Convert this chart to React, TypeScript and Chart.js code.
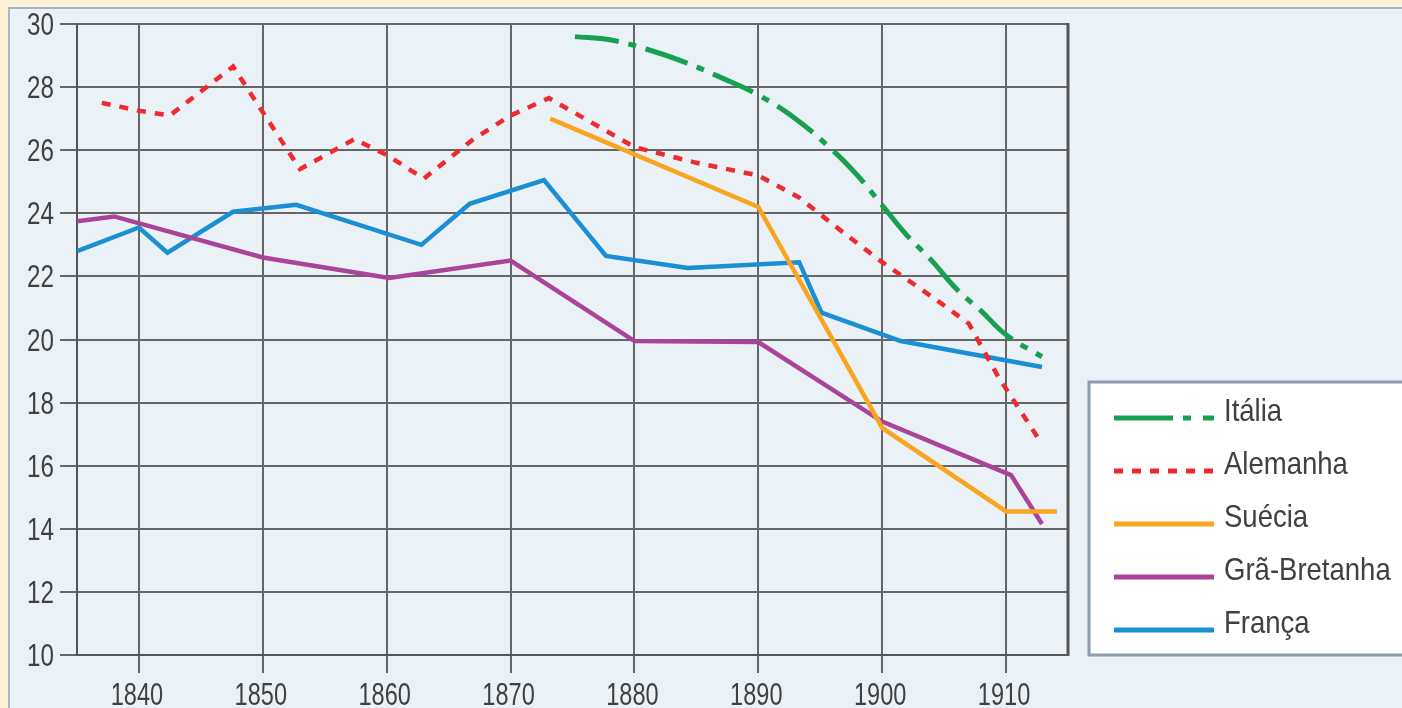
import React, { useEffect, useRef } from "react";
import { Chart, registerables } from "chart.js";

Chart.register(...registerables);

// ---------- data ----------
const seriesNames = ["Itália", "Alemanha", "Suécia", "Grã-Bretanha", "França"];

const italiaYears = [1875.2, 1878, 1881, 1884, 1887, 1890, 1893, 1896, 1898, 1900, 1902, 1904, 1906, 1908, 1910, 1912.9];
const italiaValues = [29.6, 29.5, 29.2, 28.8, 28.3, 27.75, 27.0, 26.0, 25.2, 24.25, 23.3, 22.5, 21.6, 20.9, 20.15, 19.45];

const alemanhaYears = [1837, 1840, 1842.5, 1847.6, 1853, 1857.4, 1860, 1863, 1867, 1870, 1873.1, 1880, 1885, 1890, 1893.3, 1896.5, 1900, 1904.4, 1907, 1909.4, 1912.8];
const alemanhaValues = [27.5, 27.25, 27.1, 28.65, 25.4, 26.35, 25.85, 25.1, 26.35, 27.1, 27.65, 26.1, 25.6, 25.2, 24.5, 23.5, 22.45, 21.25, 20.5, 18.8, 16.75];

const sueciaYears = [1873.2, 1890, 1900, 1910, 1914.1];
const sueciaValues = [27.0, 24.2, 17.2, 14.55, 14.55];

const gbYears = [1835, 1838, 1850, 1860.2, 1870, 1880, 1890, 1900, 1910.4, 1912.9];
const gbValues = [23.75, 23.9, 22.6, 21.95, 22.5, 19.95, 19.92, 17.4, 15.7, 14.15];

const francaYears = [1835, 1840, 1842.3, 1847.6, 1852.7, 1862.8, 1866.7, 1872.7, 1877.7, 1884.3, 1893.3, 1895.1, 1901.5, 1912.9];
const francaValues = [22.8, 23.55, 22.75, 24.05, 24.27, 23.0, 24.3, 25.05, 22.65, 22.27, 22.45, 20.85, 19.95, 19.13];

const xTickValues = [1840, 1850, 1860, 1870, 1880, 1890, 1900, 1910];
const yTickValues = [10, 12, 14, 16, 18, 20, 22, 24, 26, 28, 30];

// ---------- styles ----------
const colors = ["#16a04f", "#ee2a2f", "#f9a51f", "#a9449a", "#1a8fd3"];
const dashes: number[][] = [[44, 10, 8, 10], [9, 9], [], [], []];
const legendDashes: number[][] = [[59, 10, 8, 12, 11, 200], [9, 9], [], [], []];
const FONT = "'Liberation Sans', Arial, sans-serif";
const TEXT_COLOR = "#404040";

const toPoints = (xs: number[], ys: number[]) => xs.map((x, i) => ({ x, y: ys[i] }));

function drawNarrow(ctx: CanvasRenderingContext2D, text: string, x: number, y: number, sx: number, align: CanvasTextAlign) {
  ctx.save();
  ctx.translate(x, y);
  ctx.scale(sx, 1);
  ctx.textAlign = align;
  ctx.fillText(text, 0, 0);
  ctx.restore();
}

const labelsPlugin = {
  id: "narrowTickLabels",
  afterDraw(chart: any) {
    const ctx = chart.ctx as CanvasRenderingContext2D;
    const xs = chart.scales.x;
    const ys = chart.scales.y;
    ctx.save();
    ctx.fillStyle = TEXT_COLOR;
    ctx.font = `31px ${FONT}`;
    ctx.textBaseline = "alphabetic";
    for (const t of xs.ticks) {
      const px = xs.getPixelForValue(t.value);
      drawNarrow(ctx, String(t.value), px - 2, ys.bottom + 50, 0.76, "center");
    }
    for (const t of ys.ticks) {
      const py = ys.getPixelForValue(t.value);
      drawNarrow(ctx, String(t.value), ys.right - 23, py + 11, 0.78, "right");
    }
    ctx.restore();
  },
};

const legendPlugin = {
  id: "customLegend",
  afterDraw(chart: any) {
    const ctx = chart.ctx as CanvasRenderingContext2D;
    const area = chart.chartArea;
    ctx.save();
    // right frame line of the plot
    ctx.strokeStyle = "#555";
    ctx.lineWidth = 3;
    ctx.beginPath();
    ctx.moveTo(area.right, area.top - 1);
    ctx.lineTo(area.right, area.bottom + 1);
    ctx.stroke();

    // legend box
    const bx = area.right + 21;
    const by = 382;
    const bw = 400;
    const bh = area.bottom - by;
    ctx.fillStyle = "#ffffff";
    ctx.fillRect(bx, by, bw, bh);
    ctx.strokeStyle = "#8e9aad";
    ctx.lineWidth = 3;
    ctx.strokeRect(bx, by, bw, bh);

    const ds = chart.data.datasets;
    ctx.font = `32px ${FONT}`;
    ctx.textBaseline = "alphabetic";
    for (let i = 0; i < ds.length; i++) {
      const ly = 418 + i * 53;
      ctx.strokeStyle = ds[i].borderColor;
      ctx.lineWidth = 5;
      ctx.setLineDash(legendDashes[i]);
      ctx.beginPath();
      ctx.moveTo(bx + 25, ly);
      ctx.lineTo(bx + 125, ly);
      ctx.stroke();
      ctx.setLineDash([]);
      ctx.fillStyle = TEXT_COLOR;
      drawNarrow(ctx, ds[i].label, bx + 135, ly + 3, 0.86, "left");
    }
    ctx.restore();
  },
};

export default function App() {
  const ref = useRef<HTMLCanvasElement | null>(null);

  useEffect(() => {
    if (!ref.current) return;
    const allSeries = [
      toPoints(italiaYears, italiaValues),
      toPoints(alemanhaYears, alemanhaValues),
      toPoints(sueciaYears, sueciaValues),
      toPoints(gbYears, gbValues),
      toPoints(francaYears, francaValues),
    ];
    const chart = new Chart(ref.current, {
      type: "line",
      data: {
        datasets: allSeries.map((data, i) => ({
          label: seriesNames[i],
          data,
          borderColor: colors[i],
          backgroundColor: colors[i],
          borderWidth: i === 0 ? 5 : 4.5,
          borderDash: dashes[i],
          pointRadius: 0,
          tension: i === 0 ? 0.4 : 0,
          fill: false,
          borderCapStyle: "butt",
          borderJoinStyle: "miter",
        })),
      },
      options: {
        responsive: false,
        animation: false,
        devicePixelRatio: 1,
        layout: { padding: { top: 24, right: 334, left: 0, bottom: 0 } },
        plugins: { legend: { display: false }, tooltip: { enabled: false } },
        scales: {
          x: {
            type: "linear",
            min: 1835,
            max: 1915,
            afterBuildTicks: (axis: any) => {
              axis.ticks = xTickValues.map((v) => ({ value: v }));
            },
            afterFit: (s: any) => {
              s.height = 53;
            },
            ticks: { display: false },
            grid: { color: "#666", lineWidth: 2, tickLength: 18, drawTicks: true },
            border: { display: true, color: "#555", width: 2 },
          },
          y: {
            min: 10,
            max: 30,
            afterBuildTicks: (axis: any) => {
              axis.ticks = yTickValues.map((v) => ({ value: v }));
            },
            afterFit: (s: any) => {
              s.width = 77;
            },
            ticks: { display: false },
            grid: { color: "#666", lineWidth: 2, tickLength: 17, drawTicks: true },
            border: { display: true, color: "#555", width: 2 },
          },
        },
      },
      plugins: [labelsPlugin, legendPlugin],
    });
    return () => chart.destroy();
  }, []);

  return (
    <div style={{ position: "absolute", left: 0, top: 0, width: 1402, height: 708, background: "#fdf2d4", overflow: "hidden" }}>
      <div
        style={{
          position: "absolute",
          left: 8,
          top: 7,
          width: 1402 - 8,
          height: 708 - 7,
          background: "#eaf1f7",
          borderLeft: "2px solid #a8b5c5",
          borderTop: "2px solid #a8b5c5",
          boxSizing: "border-box",
        }}
      />
      <canvas ref={ref} width={1402} height={708} style={{ position: "absolute", left: 0, top: 0, width: 1402, height: 708 }} />
    </div>
  );
}
